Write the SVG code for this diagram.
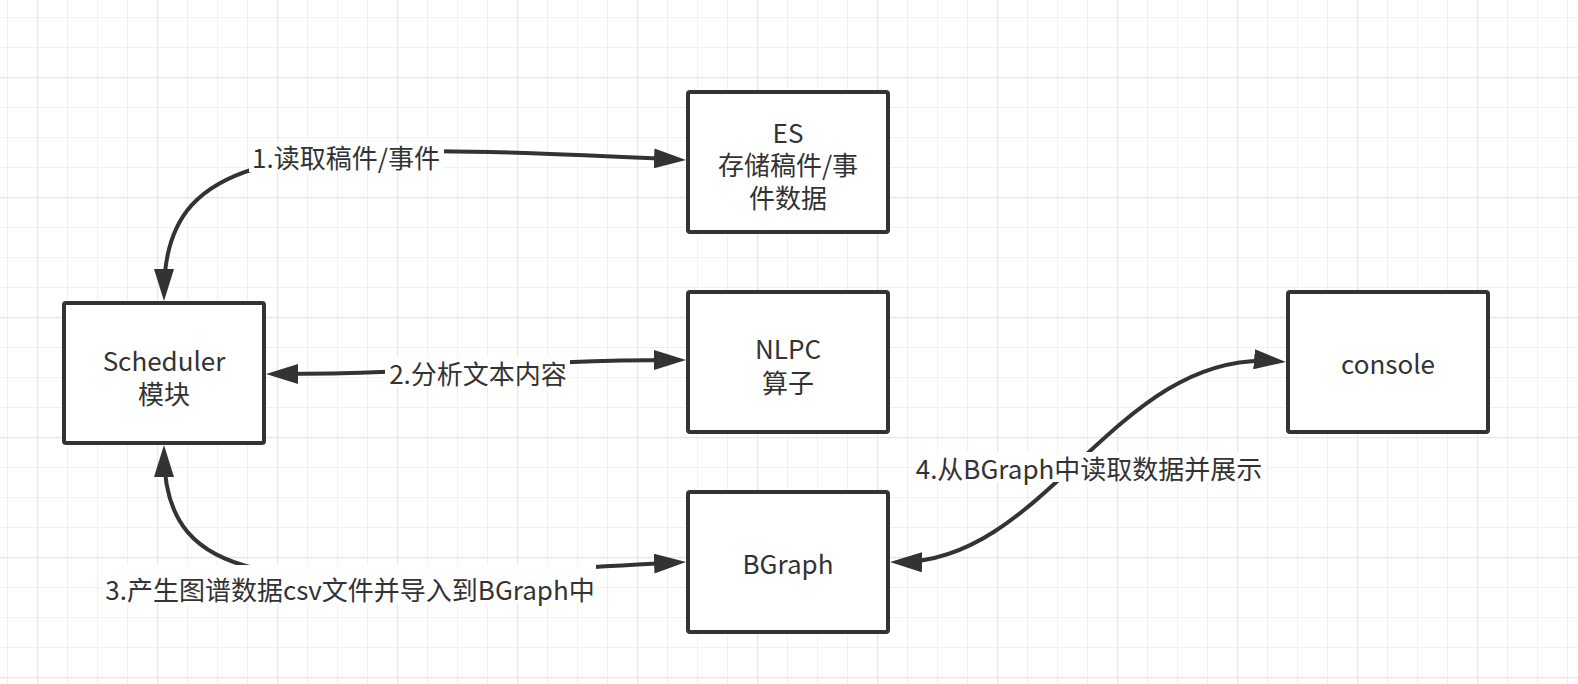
<svg xmlns="http://www.w3.org/2000/svg" width="1578" height="684" viewBox="0 0 1578 684">
  <style>
    .box { fill: #ffffff; stroke: #333333; stroke-width: 4; }
    .node-text { font-family: "Noto Sans CJK SC", "Noto Sans", sans-serif; font-size: 26px; fill: #333333; text-anchor: middle; dominant-baseline: central; }
    .edge { fill: none; stroke: #333333; stroke-width: 4; }
    .label-bg { fill: #ffffff; }
    .label { font-family: "Noto Sans CJK SC", "Noto Sans", sans-serif; font-size: 26px; fill: #333333; text-anchor: middle; dominant-baseline: central; }
  </style>
  <defs>
    <pattern id="minor" patternUnits="userSpaceOnUse" x="7" y="17" width="30" height="30">
      <path d="M0,0 H30 M0,0 V30" fill="none" stroke="#f0f0f0" stroke-width="2"/>
    </pattern>
    <pattern id="major" patternUnits="userSpaceOnUse" x="37" y="77" width="120" height="120">
      <path d="M0,0 H120 M0,0 V120" fill="none" stroke="#e6e6e6" stroke-width="2.5"/>
    </pattern>
    <marker id="arrow" markerUnits="userSpaceOnUse" viewBox="0 0 32 20" markerWidth="32" markerHeight="20" refX="24" refY="10" orient="auto-start-reverse">
      <path d="M0,0 L32,10 L0,20 Z" fill="#333333"/>
    </marker>
  </defs>

  <rect width="1578" height="684" fill="#ffffff"/>
  <rect width="1578" height="684" fill="url(#minor)"/>
  <rect width="1578" height="684" fill="url(#major)"/>

  <g id="connectors">
    <path class="edge" d="M164,293 C164,141 302,141 678,159.6" marker-start="url(#arrow)" marker-end="url(#arrow)"/>
    <path class="edge" d="M274,374 C452,374 503,360 678,360" marker-start="url(#arrow)" marker-end="url(#arrow)"/>
    <path class="edge" d="M164,453 C164,614 332,579 678,562.4" marker-start="url(#arrow)" marker-end="url(#arrow)"/>
    <path class="edge" d="M898,562 C1047,564 1117,347 1278,361.3" marker-start="url(#arrow)" marker-end="url(#arrow)"/>

    <g id="label-1">
      <rect class="label-bg" x="249" y="142" width="195" height="30"/>
      <text class="label" x="346" y="156">1.读取稿件/事件</text>
    </g>
    <g id="label-2">
      <rect class="label-bg" x="385" y="357" width="185" height="30"/>
      <text class="label" x="478" y="372">2.分析文本内容</text>
    </g>
    <g id="label-3">
      <rect class="label-bg" x="102" y="565" width="494" height="38"/>
      <text class="label" x="350" y="588">3.产生图谱数据csv文件并导入到BGraph中</text>
    </g>
    <g id="label-4">
      <rect class="label-bg" x="912" y="452" width="354" height="30"/>
      <text class="label" x="1089" y="467">4.从BGraph中读取数据并展示</text>
    </g>
  </g>

  <g id="node-scheduler">
    <rect class="box" x="64" y="303" width="200" height="140" rx="2"/>
    <text class="node-text" x="164" y="359">Scheduler</text>
    <text class="node-text" x="164" y="392">模块</text>
  </g>

  <g id="node-es">
    <rect class="box" x="688" y="92" width="200" height="140" rx="2"/>
    <text class="node-text" x="788" y="131">ES</text>
    <text class="node-text" x="788" y="163">存储稿件/事</text>
    <text class="node-text" x="788" y="196">件数据</text>
  </g>

  <g id="node-nlpc">
    <rect class="box" x="688" y="292" width="200" height="140" rx="2"/>
    <text class="node-text" x="788" y="347">NLPC</text>
    <text class="node-text" x="788" y="381">算子</text>
  </g>

  <g id="node-bgraph">
    <rect class="box" x="688" y="492" width="200" height="140" rx="2"/>
    <text class="node-text" x="788" y="562">BGraph</text>
  </g>

  <g id="node-console">
    <rect class="box" x="1288" y="292" width="200" height="140" rx="2"/>
    <text class="node-text" x="1388" y="362">console</text>
  </g>
</svg>
